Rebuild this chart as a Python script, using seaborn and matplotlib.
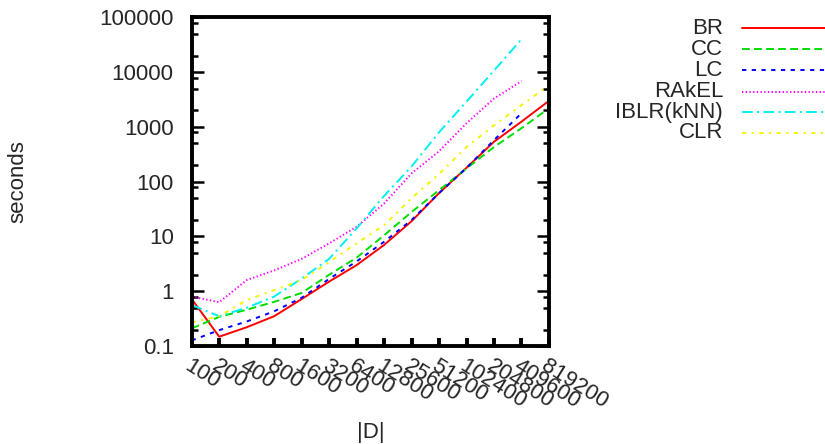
import numpy as np
import pandas as pd
import seaborn as sns
import matplotlib
matplotlib.use("Agg")
import matplotlib.pyplot as plt
from matplotlib.lines import Line2D
from matplotlib.ticker import LogLocator, NullFormatter, NullLocator

# |D| values on the x axis
sizes = [100, 200, 400, 800, 1600, 3200, 6400, 12800, 25600,
         51200, 102400, 204800, 409600, 819200]
size_labels = [str(s) for s in sizes]

# runtime in seconds (nan = no run)
nan = np.nan
br = [0.72, 0.148, 0.22, 0.35, 0.72, 1.5, 3.0, 7.0, 19, 62, 180, 537, 1250, 3000]
cc = [0.21, 0.34, 0.46, 0.64, 0.93, 2.0, 4.1, 10.5, 28, 70, 175, 430, 950, 2200]
lc = [0.126, 0.195, 0.28, 0.43, 0.76, 1.68, 3.5, 8.0, 20, 62, 178, 575, 1780, nan]
rakel = [0.8, 0.63, 1.6, 2.4, 3.9, 7.5, 15, 40, 142, 360, 1170, 3300, 6900, nan]
iblr = [0.56, 0.35, 0.5, 0.8, 1.7, 3.9, 14, 55, 190, 800, 2900, 10700, 40000, nan]
clr = [0.27, 0.35, 0.69, 1.05, 1.6, 3.4, 7.5, 16, 50, 138, 430, 1070, 2500, 5800]

methods = ["BR", "CC", "LC", "RAkEL", "IBLR(kNN)", "CLR"]
series = [br, cc, lc, rakel, iblr, clr]

colors = {"BR": "#ff0000", "CC": "#00dd00", "LC": "#0000ff",
          "RAkEL": "#ff00ff", "IBLR(kNN)": "#00f0f0", "CLR": "#f5f500"}
dashes = {"BR": "", "CC": (4.0, 2.2), "LC": (2.2, 2.8), "RAkEL": (0.7, 1.2),
          "IBLR(kNN)": (5.5, 2.2, 1.1, 2.2), "CLR": (2.2, 2.8, 1.1, 2.8)}

rows = []
for m, vals in zip(methods, series):
    for s, v in zip(sizes, vals):
        if not np.isnan(v):
            rows.append({"D": s, "seconds": v, "method": m})
df = pd.DataFrame(rows)

sns.set_style("ticks")
plt.rcParams["font.family"] = ["Liberation Sans", "DejaVu Sans"]
fs = 16
lw = 1.4

fig = plt.figure(figsize=(8.25, 4.44), dpi=100)
ax = fig.add_axes([0.2324, 0.2207, 0.433, 0.740])

sns.lineplot(data=df, x="D", y="seconds", hue="method", style="method",
             hue_order=methods, style_order=methods, palette=colors,
             dashes=dashes, linewidth=lw, legend=False, ax=ax)

ax.set_xscale("log", base=2)
ax.set_yscale("log")
ax.set_xlim(sizes[0], sizes[-1])
ax.set_ylim(0.1, 100000)

ax.set_xticks(sizes)
ax.set_xticklabels(size_labels, rotation=-32, ha="left", va="top",
                   rotation_mode="anchor", fontsize=fs)
ax.xaxis.set_minor_locator(NullLocator())

yt = [0.1, 1, 10, 100, 1000, 10000, 100000]
ax.set_yticks(yt)
ax.set_yticklabels(["0.1", "1", "10", "100", "1000", "10000", "100000"], fontsize=fs)
ax.yaxis.set_minor_locator(LogLocator(base=10, subs=(2, 5, 8)))
ax.yaxis.set_minor_formatter(NullFormatter())

ax.tick_params(axis="x", which="major", direction="in", length=6, width=2.8,
               pad=7, top=False, color="black")
ax.tick_params(axis="y", which="major", direction="in", length=8.5, width=1.8,
               pad=13, right=True, color="black")
ax.tick_params(axis="y", which="minor", direction="in", length=4.5, width=1.8,
               right=True, color="black")

for sp in ax.spines.values():
    sp.set_linewidth(2.8)
    sp.set_color("black")

ax.set_xlabel("|D|", fontsize=fs)
ax.set_ylabel("seconds", fontsize=fs)
ax.xaxis.set_label_coords(0.5, -0.262)
ax.xaxis.label.set_va("center")
ax.yaxis.set_label_coords(-0.486, 0.5)
ax.yaxis.label.set_va("center")

# gnuplot-style key: right-aligned labels, line samples to the right
key_y = [28.5, 49.5, 70.5, 91.5, 112.5, 133.0]
for m, ypx in zip(methods, key_y):
    yf = 1 - ypx / 444
    fig.text(723 / 825, yf, m, ha="right", va="center", fontsize=fs)
    d = dashes[m]
    ln = Line2D([742 / 825, 1.0], [yf, yf], transform=fig.transFigure,
                color=colors[m], linewidth=lw)
    if d:
        ln.set_dashes(d)
    fig.add_artist(ln)

fig.savefig("out.png", dpi=100)
